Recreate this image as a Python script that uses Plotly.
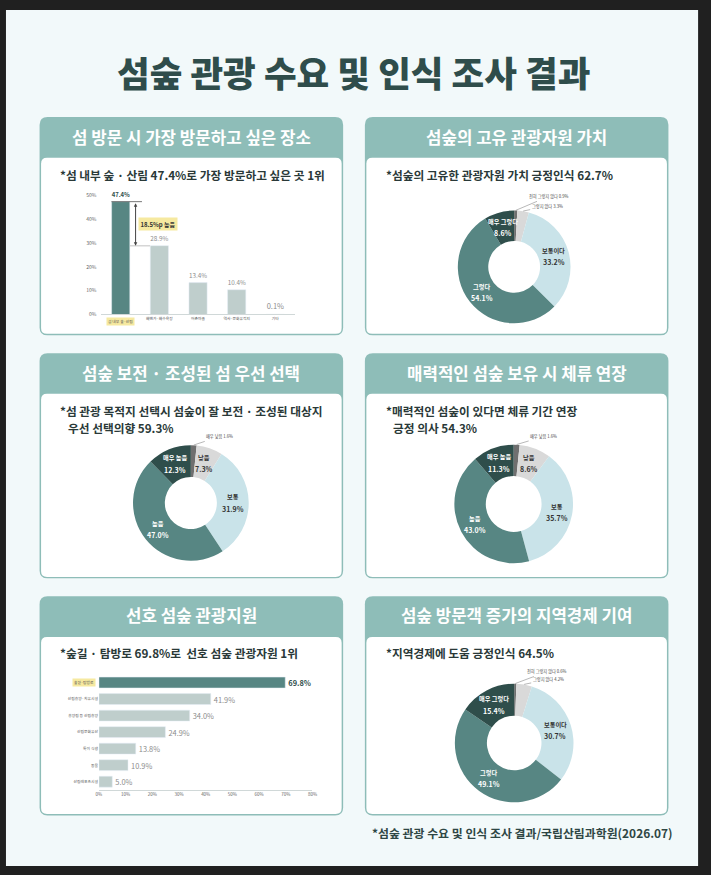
import math

import plotly.graph_objects as go

W, H = 711, 875
FONT = "Noto Sans CJK KR"

# 섬 방문 시 가장 방문하고 싶은 장소 (%)
place_cats = ["섬 내부 숲·산림", "해변가·해수욕장", "어촌마을", "역사·문화유적지", "기타"]
place_vals = [47.4, 28.9, 13.4, 10.4, 0.1]
place_ticks = [0, 10, 20, 30, 40, 50]

# 섬숲의 고유 관광자원 가치 (%)
value_labels = ["전혀 그렇지 않다", "그렇지 않다", "보통이다", "그렇다", "매우 그렇다"]
value_vals = [0.9, 3.3, 33.2, 54.1, 8.6]

# 섬숲 보전·조성된 섬 우선 선택 (%)
prefer_labels = ["매우 낮음", "낮음", "보통", "높음", "매우 높음"]
prefer_vals = [1.6, 7.3, 31.9, 47.0, 12.3]

# 매력적인 섬숲 보유 시 체류 연장 (%)
stay_labels = ["매우 낮음", "낮음", "보통", "높음", "매우 높음"]
stay_vals = [1.6, 8.6, 35.7, 43.0, 11.3]

# 선호 섬숲 관광자원 (%)
resource_cats = ["숲길·탐방로", "산림휴양·치유시설", "휴양림 등 산림휴양", "산림문화유산",
                 "특이 식생", "동물", "산림레포츠시설"]
resource_vals = [69.8, 41.9, 34.0, 24.9, 13.8, 10.9, 5.0]
resource_ticks = [0, 10, 20, 30, 40, 50, 60, 70, 80]

# 섬숲 방문객 증가의 지역경제 기여 (%)
econ_labels = ["전혀 그렇지 않다", "그렇지 않다", "보통이다", "그렇다", "매우 그렇다"]
econ_vals = [0.6, 4.2, 30.7, 49.1, 15.4]

SLICE_COLORS = ["#6f6f6f", "#d9d9d9", "#c9e3e9", "#578683", "#2f4e4b"]
HI_BAR, LO_BAR = "#578683", "#bfcecc"
TEAL = "#8ebdb8"
HILITE = "#f6e9a0"


def px(x):
    return x / W


def py(y):
    return 1 - y / H


def rounded_path(x0, y0, x1, y1, r):
    pts = [("M", x0 + r, y0), ("L", x1 - r, y0), ("Q", x1, y0, x1, y0 + r),
           ("L", x1, y1 - r), ("Q", x1, y1, x1 - r, y1), ("L", x0 + r, y1),
           ("Q", x0, y1, x0, y1 - r), ("L", x0, y0 + r), ("Q", x0, y0, x0 + r, y0)]
    out = []
    for p in pts:
        cmd, coords = p[0], p[1:]
        xy = " ".join(f"{px(coords[k]):.5f},{py(coords[k + 1]):.5f}" for k in range(0, len(coords), 2))
        out.append(f"{cmd}{xy}")
    return " ".join(out) + " Z"


def note(x, y, text, size, color, xanchor="center", weight=None, **kw):
    # paper-referenced text, anchors fixed so 'auto' does not move it
    font = dict(family=FONT, size=size, color=color)
    if weight:
        font["weight"] = weight
    d = dict(x=px(x), y=py(y), xref="paper", yref="paper", showarrow=False, text=text,
             xanchor=xanchor, yanchor="middle", font=font)
    d.update(kw)
    return d


fig = go.Figure()
shapes, annotations = [], []

# page background
shapes.append(dict(type="rect", xref="paper", yref="paper", x0=px(3), x1=px(703), y0=py(869), y1=py(6),
                   fillcolor="#f2f9fa", line_width=0, layer="below"))

panels = [
    (37, 344, 114, 334, 134, "섬 방문 시 가장 방문하고 싶은 장소"),
    (366, 673, 114, 334, 134, "섬숲의 고유 관광자원 가치"),
    (37, 344, 352, 579, 372, "섬숲 보전 · 조성된 섬 우선 선택"),
    (366, 673, 352, 579, 372, "매력적인 섬숲 보유 시 체류 연장"),
    (37, 344, 597, 818, 616, "선호 섬숲 관광지원"),
    (366, 673, 597, 818, 616, "섬숲 방문객 증가의 지역경제 기여"),
]
for x0, x1, y0, y1, ty, title in panels:
    shapes.append(dict(type="path", xref="paper", yref="paper", path=rounded_path(x0, y0, x1, y1, 8),
                       fillcolor=TEAL, line_width=0, layer="below"))
    shapes.append(dict(type="path", xref="paper", yref="paper",
                       path=rounded_path(x0 + 1.5, y0 + 41, x1 - 1.5, y1 - 1.5, 6),
                       fillcolor="white", line_width=0, layer="below"))
    annotations.append(note((x0 + x1) / 2, ty, f"<b>{title}</b>", 16.8, "white"))

subtitles = [
    (56, 172, "*섬 내부 숲 · 산림 47.4%로 가장 방문하고 싶은 곳 1위"),
    (385, 172, "*섬숲의 고유한 관광자원 가치 긍정인식 62.7%"),
    (56, 410, "*섬 관광 목적지 선택시 섬숲이 잘 보전 · 조성된 대상지"),
    (64, 427, "우선 선택의향 59.3%"),
    (385, 410, "*매력적인 섬숲이 있다면 체류 기간 연장"),
    (392, 427, "긍정 의사 54.3%"),
    (56, 654, "*숲길 · 탐방로 69.8%로  선호 섬숲 관광자원 1위"),
    (385, 654, "*지역경제에 도움 긍정인식 64.5%"),
]
for sx, sy, txt in subtitles:
    annotations.append(note(sx, sy, f"<b>{txt}</b>", 11.7, "#2a3938", xanchor="left"))

annotations.append(note(354, 68, "섬숲 관광 수요 및 인식 조사 결과", 35.5, "#2f4d4b", weight=900))
annotations.append(note(680, 835, "<b>*섬숲 관광 수요 및 인식 조사 결과/국립산림과학원(2026.07)</b>",
                        11.9, "#2e4644", xanchor="right"))

# ---- bar chart: places ----
fig.add_trace(go.Bar(
    x=place_cats, y=place_vals, width=0.47,
    marker=dict(color=[HI_BAR] + [LO_BAR] * (len(place_vals) - 1)),
    text=[f"<b>{place_vals[0]}%</b>"] + [f"{v}%" for v in place_vals[1:]],
    textposition="outside", cliponaxis=False,
    textfont=dict(family=FONT, size=7.5, color=["#2f4e4b"] + ["#8c8c8c"] * (len(place_vals) - 1)),
    hoverinfo="skip", showlegend=False, xaxis="x", yaxis="y"))

gap = place_vals[0] - place_vals[1]
shapes.append(dict(type="line", xref="x", yref="y", x0=-0.24, x1=0.55, y0=place_vals[0], y1=place_vals[0],
                   line=dict(color="#555555", width=0.8)))
shapes.append(dict(type="line", xref="x", yref="y", x0=0.24, x1=0.76, y0=place_vals[1], y1=place_vals[1],
                   line=dict(color="#d6d6d6", width=1.5)))
annotations.append(dict(x=0.385, y=place_vals[1], xref="x", yref="y", ax=0.385, ay=place_vals[0],
                        axref="x", ayref="y", text="", showarrow=True, arrowside="end+start",
                        arrowhead=2, startarrowhead=2, arrowsize=0.7, startarrowsize=0.7,
                        arrowwidth=1, arrowcolor="#444444"))
annotations.append(dict(x=0.97, y=(place_vals[0] + place_vals[1]) / 2, xref="x", yref="y", showarrow=False,
                        text=f"<b>{gap:.1f}%p 높음</b>", bgcolor=HILITE, borderpad=1.5,
                        xanchor="center", yanchor="middle",
                        font=dict(family=FONT, size=6, color="#333333")))
annotations.append(dict(x=0, y=0, xref="x", yref="y", yshift=-7, showarrow=False, text=place_cats[0],
                        xanchor="center", yanchor="middle",
                        bgcolor=HILITE, borderpad=1, font=dict(family=FONT, size=3.8, color="#555555")))

# ---- bar chart: resources ----
fig.add_trace(go.Bar(
    x=resource_vals, y=resource_cats, orientation="h", width=0.66,
    marker=dict(color=[HI_BAR] + [LO_BAR] * (len(resource_vals) - 1)),
    text=[f"<b>{resource_vals[0]:.1f}%</b>"] + [f"{v:.1f}%" for v in resource_vals[1:]],
    textposition="outside", cliponaxis=False,
    textfont=dict(family=FONT, size=7.5, color=["#2f4e4b"] + ["#8c8c8c"] * (len(resource_vals) - 1)),
    hoverinfo="skip", showlegend=False, xaxis="x2", yaxis="y2"))
annotations.append(dict(x=0, y=0, xref="x2", yref="y2", xanchor="right", yanchor="middle", xshift=-3,
                        showarrow=False, text=resource_cats[0], bgcolor=HILITE, borderpad=1,
                        font=dict(family=FONT, size=3.8, color="#555555")))


# ---- donuts ----
def add_donut(labels, vals, cx, cy, r, hole, offsets):
    fig.add_trace(go.Pie(
        labels=labels, values=vals, hole=hole, sort=False, direction="clockwise", rotation=0,
        marker=dict(colors=SLICE_COLORS), textinfo="none", hoverinfo="skip", showlegend=False,
        domain=dict(x=[px(cx - r), px(cx + r)], y=[py(cy + r), py(cy - r)])))
    total = sum(vals)
    cum = 0
    for i, (lab, v) in enumerate(zip(labels, vals)):
        th = 2 * math.pi * (cum + v / 2) / total
        cum += v
        if i < len(offsets):
            ex, ey = cx + r * math.sin(th), cy - r * math.cos(th)
            annotations.append(dict(x=px(ex), y=py(ey), xref="paper", yref="paper", text=f"{lab} {v:.1f}%",
                                    showarrow=True, ax=offsets[i][0], ay=offsets[i][1], arrowhead=0,
                                    arrowwidth=0.6, arrowcolor="#888888", xanchor="center", yanchor="middle",
                                    font=dict(family=FONT, size=4.2, color="#444444")))
        else:
            rm = r * (1 + hole) / 2
            lx, ly = cx + rm * math.sin(th), cy - rm * math.cos(th)
            col = "#333333" if i <= 2 else "white"
            annotations.append(note(lx, ly, f"<b>{lab}</b>", 6.2, col, yshift=6))
            annotations.append(note(lx, ly, f"<b>{v:.1f}%</b>", 7, col, yshift=-6))


add_donut(value_labels, value_vals, 517, 265, 57, 0.46, [(33, -14), (24, -5)])
add_donut(prefer_labels, prefer_vals, 190, 503, 58.5, 0.45, [(26, -8.5)])
add_donut(stay_labels, stay_vals, 516.5, 504, 60, 0.47, [(27, -8)])
add_donut(econ_labels, econ_vals, 517, 745, 60, 0.46, [(32, -12), (24, -5)])

fig.update_layout(
    width=W, height=H, margin=dict(l=0, r=0, t=0, b=0),
    paper_bgcolor="#202020", plot_bgcolor="rgba(0,0,0,0)",
    font=dict(family=FONT),
    shapes=shapes, annotations=annotations,
    xaxis=dict(domain=[px(99.5), px(295)], type="category", range=[-0.5, len(place_cats) - 0.5],
               tickvals=place_cats, ticktext=[""] + place_cats[1:], ticks="",
               tickfont=dict(family=FONT, size=3.8, color="#555555"),
               showline=True, linecolor="#d0d8d8", linewidth=1, showgrid=False, fixedrange=True),
    yaxis=dict(domain=[py(313), py(193)], range=[0, 50], tickvals=place_ticks,
               ticktext=[f"{t}%" for t in place_ticks], ticklabelstandoff=4,
               tickfont=dict(family=FONT, size=5, color="#666666"), showgrid=False, zeroline=False,
               showline=False, fixedrange=True),
    xaxis2=dict(domain=[px(97), px(313)], range=[0, 80], tickvals=resource_ticks,
                ticktext=[f"{t}%" for t in resource_ticks],
                tickfont=dict(family=FONT, size=4.5, color="#666666"), showgrid=False, zeroline=False,
                showline=True, linecolor="#d0d8d8", linewidth=1, anchor="y2", fixedrange=True),
    yaxis2=dict(domain=[py(792.3), py(675.7)], type="category", range=[len(resource_cats) - 0.5, -0.5],
                tickvals=resource_cats, ticktext=[""] + resource_cats[1:], ticks="",
                tickfont=dict(family=FONT, size=3.8, color="#555555"), showgrid=False,
                showline=False, anchor="x2", fixedrange=True),
)

fig.write_html("out.html", config={"displayModeBar": False},
               post_script="document.body.style.margin='0';")
